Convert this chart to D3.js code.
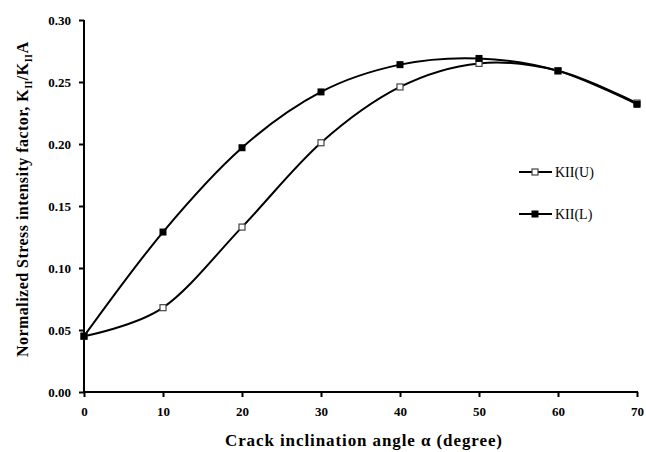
<!DOCTYPE html>
<html>
<head>
<meta charset="utf-8">
<script src="https://cdn.jsdelivr.net/npm/d3@7"></script>
<style>
  body { margin: 0; background: #fff; }
  svg { display: block; }
  text { font-family: "Liberation Serif", "Times New Roman", serif; fill: #000; }
</style>
</head>
<body>
<div id="chart"></div>
<script>
var angles = [0, 10, 20, 30, 40, 50, 60, 70];
var kiiU = [0.045, 0.068, 0.133, 0.201, 0.246, 0.265, 0.259, 0.233];
var kiiL = [0.045, 0.129, 0.197, 0.242, 0.264, 0.269, 0.259, 0.232];
var xTicks = [0, 10, 20, 30, 40, 50, 60, 70];
var yTicks = [0, 0.05, 0.10, 0.15, 0.20, 0.25, 0.30];

var width = 646, height = 452;
var plotLeft = 84, plotRight = 637, plotTop = 20, plotBottom = 392;

var svg = d3.select('#chart').append('svg')
    .attr('width', width)
    .attr('height', height);

var x = d3.scaleLinear().domain([0, 70]).range([plotLeft, plotRight]);
var y = d3.scaleLinear().domain([0, 0.30]).range([plotBottom, plotTop]);

// axes
var xAxis = svg.append('g')
    .attr('transform', 'translate(0,' + plotBottom + ')')
    .call(d3.axisBottom(x).tickValues(xTicks).tickSize(5).tickPadding(10).tickFormat(d3.format('d')));
var yAxis = svg.append('g')
    .attr('transform', 'translate(' + plotLeft + ',0)')
    .call(d3.axisLeft(y).tickValues(yTicks).tickSize(5).tickPadding(8).tickFormat(d3.format('.2f')));

[xAxis, yAxis].forEach(function (a) {
    a.select('.domain').attr('stroke', '#000').attr('stroke-width', 2);
    a.selectAll('.tick line').attr('stroke', '#000').attr('stroke-width', 2);
    a.selectAll('.tick text')
        .style('font-family', '"Liberation Serif", serif')
        .style('font-size', '13px')
        .style('font-weight', 'bold');
});
// plain domain lines, no outer stubs
xAxis.select('.domain').attr('d', 'M' + plotLeft + ',0H' + (plotRight + 1));
yAxis.select('.domain').attr('d', 'M0,' + (plotBottom + 1) + 'V' + plotTop);

var series = [
    { name: 'KII(U)', values: kiiU, filled: false },
    { name: 'KII(L)', values: kiiL, filled: true }
];

var line = d3.line()
    .x(function (d) { return x(d[0]); })
    .y(function (d) { return y(d[1]); })
    .curve(d3.curveCardinal.tension(0));

series.forEach(function (s) {
    var pts = angles.map(function (a, i) { return [a, s.values[i]]; });
    svg.append('path')
        .attr('d', line(pts))
        .attr('fill', 'none')
        .attr('stroke', '#000')
        .attr('stroke-width', 2);
});

function marker(sel, s, size) {
    sel.attr('width', size).attr('height', size)
        .attr('fill', s.filled ? '#000' : '#fff')
        .attr('stroke', s.filled ? 'none' : '#444')
        .attr('stroke-width', 1.2);
}

series.forEach(function (s) {
    var size = s.filled ? 7 : 6;
    svg.selectAll(null)
        .data(angles.map(function (a, i) { return [a, s.values[i]]; }))
        .enter()
        .append('rect')
        .attr('x', function (d) { return x(d[0]) - size / 2; })
        .attr('y', function (d) { return y(d[1]) - size / 2; })
        .call(marker, s, size);
});

// legend
var legendY = [172, 214];
series.forEach(function (s, i) {
    var size = s.filled ? 7 : 6;
    var g = svg.append('g').attr('transform', 'translate(519,' + legendY[i] + ')');
    g.append('line')
        .attr('x1', 0).attr('x2', 33).attr('y1', 0).attr('y2', 0)
        .attr('stroke', '#000').attr('stroke-width', 2);
    g.append('rect')
        .attr('x', 16 - size / 2).attr('y', -size / 2)
        .call(marker, s, size);
    g.append('text')
        .attr('x', 36).attr('y', 0).attr('dy', '0.35em')
        .style('font-size', '14px')
        .text(s.name);
});

// axis titles
svg.append('text')
    .attr('x', 225)
    .attr('y', 446)
    .attr('textLength', 277)
    .attr('lengthAdjust', 'spacing')
    .style('font-size', '17px')
    .style('font-weight', 'bold')
    .text('Crack inclination  angle \u03b1 (degree)');

var yt = svg.append('text')
    .attr('transform', 'translate(28,357) rotate(-90)')
    .attr('textLength', 315)
    .attr('lengthAdjust', 'spacing')
    .style('font-size', '16px')
    .style('font-weight', 'bold');
yt.append('tspan').text('Normalized Stress intensity factor, K');
yt.append('tspan').attr('dy', 4).style('font-size', '10px').text('II');
yt.append('tspan').attr('dy', -4).text('/K');
yt.append('tspan').attr('dy', 4).style('font-size', '10px').text('II');
yt.append('tspan').attr('dy', -4).text('A');
</script>
</body>
</html>
